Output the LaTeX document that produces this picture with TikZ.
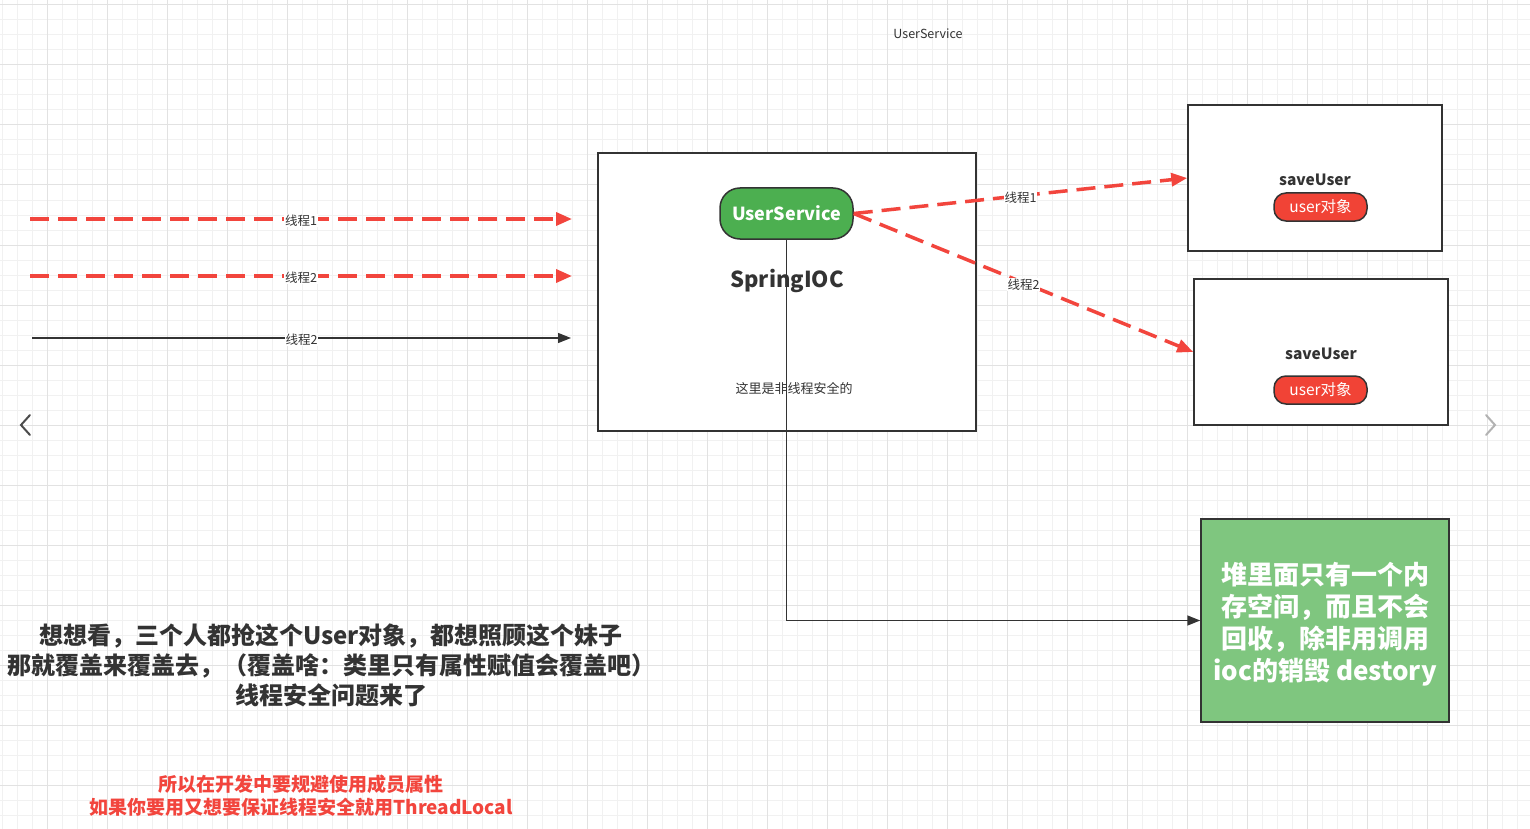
\documentclass[tikz,border=0pt]{standalone}
\usepackage{fontspec}
\setmainfont{Noto Sans CJK SC}
\usepackage{tikz}
\usetikzlibrary{arrows.meta, positioning, calc}
\definecolor{flowred}{HTML}{F2453D}
\definecolor{darktext}{HTML}{333333}
\definecolor{svcgreen}{HTML}{4CAF50}
\definecolor{heapgreen}{HTML}{7FC67F}
\definecolor{objred}{HTML}{F14336}
\definecolor{gridminor}{HTML}{F1F1F1}
\definecolor{gridmajor}{HTML}{E2E2E2}
\newcommand\fsz[2]{\fontsize{#1pt}{#2pt}\selectfont}

\begin{document}
\begin{tikzpicture}[x=1pt, y=-1pt,
    box/.style={draw=darktext, fill=white, line width=1.5pt, inner sep=0pt},
    pill/.style={draw=darktext, line width=1.5pt, rounded corners=#1, inner sep=0pt, text=white},
    threadred/.style={flowred, line width=3.5pt, dash pattern=on 19pt off 9pt, -{Triangle[length=16pt,width=13pt]}},
    flow/.style={darktext, line width=1.5pt, -{Triangle[length=13pt,width=10pt]}},
    lbl/.style={fill=white, inner sep=1pt, text=darktext, font=\fsz{12.5}{15}},
    chev/.style={line width=2pt, line cap=round, line join=miter}]

    % page and grid
    \fill[white] (0,0) rectangle (1530,829);
    \useasboundingbox (0,0) rectangle (1530,829);
    \foreach \x in {2,17,...,1530} \draw[gridminor, line width=1pt] (\x,0) -- (\x,829);
    \foreach \y in {5,20,...,829} \draw[gridminor, line width=1pt] (0,\y) -- (1530,\y);
    \foreach \x in {47,107,...,1530} \draw[gridmajor, line width=1pt] (\x,0) -- (\x,829);
    \foreach \y in {5,65,...,829} \draw[gridmajor, line width=1pt] (0,\y) -- (1530,\y);

    % title
    \node[text=darktext, font=\fsz{12.5}{15}] (title) at (928,34) {UserService};

    % the container
    \node[box, minimum width=378pt, minimum height=278pt] (ioc) at (787,292) {};
    \node[text=darktext, font=\fsz{22}{26}\bfseries] (ioclbl) at (787,281) {SpringIOC};
    \node[text=darktext, font=\fsz{13}{16}] (note) at (794,388) {这里是非线程安全的};

    % the bean
    \node[pill=20pt, fill=svcgreen, minimum width=133pt, minimum height=51pt, font=\fsz{18}{22}\bfseries] (svc) at (786.5,213.5) {\raisebox{-1pt}{UserService}};

    % two methods
    \node[box, minimum width=254pt, minimum height=146pt] (save1) at (1315,178) {};
    \node[text=darktext, font=\fsz{15.5}{18}\bfseries] (save1lbl) at (1315,180) {saveUser};
    \node[pill=12pt, fill=objred, minimum width=93pt, minimum height=28pt, font=\fsz{15.5}{18}] (obj1) at (1320.5,207) {\raisebox{-1pt}{user对象}};

    \node[box, minimum width=254pt, minimum height=146pt] (save2) at (1321,352) {};
    \node[text=darktext, font=\fsz{15.5}{18}\bfseries] (save2lbl) at (1321,354) {saveUser};
    \node[pill=12pt, fill=objred, minimum width=93pt, minimum height=28pt, font=\fsz{15.5}{18}] (obj2) at (1320.5,390) {\raisebox{-1pt}{user对象}};

    % heap note
    \node[draw=darktext, line width=1.5pt, fill=heapgreen, minimum width=248pt, minimum height=203pt] (heap) at (1325,620.5) {};
    \node[text=white, align=center, font=\fsz{26}{32}\bfseries] (heaptxt) at (1325,624.5)
        {堆里面只有一个内\\存空间，而且不会\\回收，除非用调用\\ioc的销毁 destory};
    \draw[flow] (svc.south) |- (heap.west);

    % incoming threads
    \coordinate (t1s) at (30,219);  \coordinate (t1e) at (572,219);
    \coordinate (t2s) at (30,276);  \coordinate (t2e) at (572,276);
    \coordinate (t3s) at (32,338);  \coordinate (t3e) at (571,338);
    \draw[threadred] (t1s) -- node[lbl, yshift=-1.5pt] (l1) {线程1} (t1e);
    \draw[threadred] (t2s) -- node[lbl, yshift=-1.5pt] (l2) {线程2} (t2e);
    \draw[flow, line width=1.2pt] (t3s) -- node[lbl, yshift=-1.5pt] (l3) {线程2} (t3e);

    % bean to methods
    \draw[threadred] (svc.east) -- node[lbl, yshift=-1.5pt] (l4) {线程1} (save1.west);
    \draw[threadred] (svc.east) -- node[lbl, yshift=-1.5pt] (l5) {线程2} (save2.west);

    % remarks
    \node[text=darktext, align=center, font=\fsz{24}{30}\bfseries] (think) at (331,665)
        {想想看，三个人都抢这个User对象，都想照顾这个妹子\\那就覆盖来覆盖去，（覆盖啥：类里只有属性赋值会覆盖吧）\\线程安全问题来了};
    \node[text=flowred, align=center, font=\fsz{19}{23}\bfseries] (advice) at (301,796)
        {所以在开发中要规避使用成员属性\\如果你要用又想要保证线程安全就用ThreadLocal};

    % page arrows
    \draw[chev, black!70] (30,415) -- (21,425) -- (30,435);
    \draw[chev, black!30] (1486,415) -- (1495,425) -- (1486,435);
\end{tikzpicture}
\end{document}
